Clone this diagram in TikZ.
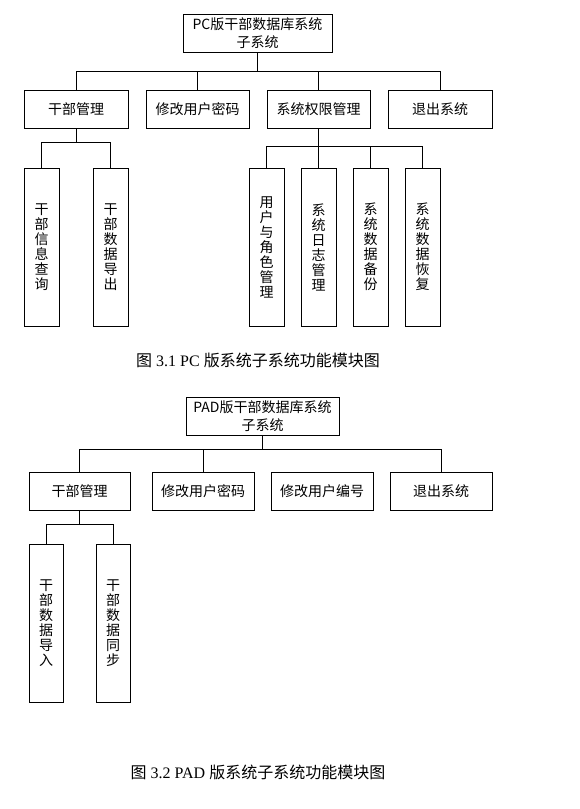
\documentclass[tikz,border=0pt]{standalone}
\usepackage{fontspec}
\setmainfont{Liberation Serif}
\newfontfamily\cjk{Noto Sans CJK SC}
\usetikzlibrary{positioning}

\begin{document}
\begin{tikzpicture}[x=1pt,y=-1pt,
    box/.style={draw, line width=1pt, inner sep=0pt, minimum height=38pt, font=\cjk\fontsize{14}{16}\selectfont},
    rootbox/.style={box, align=center, font=\cjk\fontsize{14}{18}\selectfont},
    vbox/.style={draw, line width=1pt, inner sep=0pt, minimum width=35pt, minimum height=158pt, align=center, font=\cjk\fontsize{14}{15}\selectfont},
    link/.style={line width=1pt},
    caption/.style={font=\fontsize{16}{18}\selectfont}]

    \useasboundingbox (0,0) rectangle (579,809);

    % PC version
    \node[rootbox, minimum width=149pt] (pc) at (257.5,33) {PC版干部数据库系统\\子系统};

    \node[box, minimum width=104pt] (pcstaff) at (76,109) {干部管理};
    \node[box, minimum width=103pt] (pcpwd) at (197.5,109) {修改用户密码};
    \node[box, minimum width=103pt] (pcright) at (318.5,109) {系统权限管理};
    \node[box, minimum width=104pt] (pcexit) at (440,109) {退出系统};

    \node[vbox] (pcquery) at (41.5,247) {干\\部\\信\\息\\查\\询};
    \node[vbox] (pcexport) at (110.5,247) {干\\部\\数\\据\\导\\出};

    \node[vbox] (pcrole) at (266.5,247) {用\\户\\与\\角\\色\\管\\理};
    \node[vbox] (pclog) at (318.5,247) {系\\统\\日\\志\\管\\理};
    \node[vbox] (pcbackup) at (370.5,247) {系\\统\\数\\据\\备\\份};
    \node[vbox] (pcrestore) at (422.5,247) {系\\统\\数\\据\\恢\\复};

    \coordinate (pcbus) at (257.5,71);
    \coordinate (pcbusA) at (76,142);
    \coordinate (pcbusB) at (318.5,146);

    \foreach \c in {pcstaff,pcpwd,pcright,pcexit}
        \draw[link] (pc.south) |- (pcbus) -| (\c.north);
    \foreach \c in {pcquery,pcexport}
        \draw[link] (pcstaff.south) |- (pcbusA) -| (\c.north);
    \foreach \c in {pcrole,pclog,pcbackup,pcrestore}
        \draw[link] (pcright.south) |- (pcbusB) -| (\c.north);

    \node[caption] (pccap) at (258,360) {{\cjk 图} 3.1 PC {\cjk 版系统子系统功能模块图}};

    % PAD version
    \node[rootbox, minimum width=153pt] (pad) at (262.5,416) {PAD版干部数据库系统\\子系统};

    \node[box, minimum width=101pt] (padstaff) at (79.5,491.5) {干部管理};
    \node[box, minimum width=102pt] (padpwd) at (203,491.5) {修改用户密码};
    \node[box, minimum width=102pt] (padno) at (322,491.5) {修改用户编号};
    \node[box, minimum width=102pt] (padexit) at (441,491.5) {退出系统};

    \node[vbox, minimum width=34pt] (padimport) at (46,623) {干\\部\\数\\据\\导\\入};
    \node[vbox, minimum width=34pt] (padsync) at (113,623) {干\\部\\数\\据\\同\\步};

    \coordinate (padbus) at (262.5,449);
    \coordinate (padbusA) at (79.5,524);

    \foreach \c in {padstaff,padpwd,padexit}
        \draw[link] (pad.south) |- (padbus) -| (\c.north);
    \foreach \c in {padimport,padsync}
        \draw[link] (padstaff.south) |- (padbusA) -| (\c.north);

    \node[caption] (padcap) at (258,772) {{\cjk 图} 3.2 PAD {\cjk 版系统子系统功能模块图}};
\end{tikzpicture}
\end{document}
